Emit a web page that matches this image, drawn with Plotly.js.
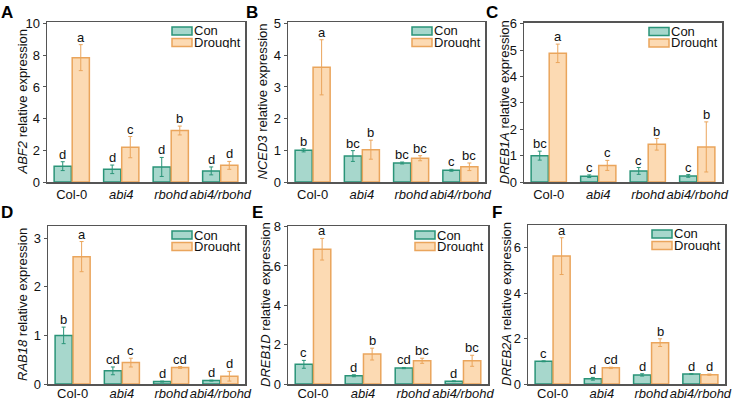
<!DOCTYPE html>
<html>
<head>
<meta charset="utf-8">
<script src="https://cdn.plot.ly/plotly-3.0.1.min.js"></script>
<style>
  html, body { margin: 0; padding: 0; background: #fff; }
  #chart { width: 733px; height: 401px; }
</style>
</head>
<body>
<div id="chart"></div>
<script>
// Genotypes on the x axis of every panel
const genotypes = ['Col-0', 'abi4', 'rbohd', 'abi4/rbohd'];
const genotypeLabels = ['Col-0', '<i>abi4</i>', '<i>rbohd</i>', '<i>abi4/rbohd</i>'];

// A: ABF2
const abf2Con = [1.0, 0.8, 0.95, 0.7];
const abf2ConErr = [0.28, 0.27, 0.6, 0.25];
const abf2Drought = [7.85, 2.2, 3.25, 1.05];
const abf2DroughtErr = [0.82, 0.67, 0.28, 0.25];
const abf2ConSig = ['d', 'd', 'd', 'd'];
const abf2DroughtSig = ['a', 'c', 'b', 'd'];

// B: NCED3
const nced3Con = [1.0, 0.82, 0.6, 0.37];
const nced3ConErr = [0.05, 0.17, 0.03, 0.03];
const nced3Drought = [3.62, 1.02, 0.75, 0.48];
const nced3DroughtErr = [0.87, 0.3, 0.08, 0.12];
const nced3ConSig = ['b', 'bc', 'bc', 'c'];
const nced3DroughtSig = ['a', 'b', 'bc', 'bc'];

// C: DREB1A
const dreb1aCon = [1.0, 0.22, 0.42, 0.23];
const dreb1aConErr = [0.17, 0.05, 0.13, 0.05];
const dreb1aDrought = [4.88, 0.63, 1.43, 1.33];
const dreb1aDroughtErr = [0.35, 0.19, 0.22, 0.95];
const dreb1aConSig = ['bc', 'c', 'c', 'c'];
const dreb1aDroughtSig = ['a', 'c', 'b', 'b'];

// D: RAB18
const rab18Con = [1.0, 0.27, 0.05, 0.07];
const rab18ConErr = [0.17, 0.08, 0.01, 0.01];
const rab18Drought = [2.62, 0.44, 0.34, 0.16];
const rab18DroughtErr = [0.31, 0.09, 0.02, 0.1];
const rab18ConSig = ['b', 'cd', 'd', 'd'];
const rab18DroughtSig = ['a', 'c', 'cd', 'd'];

// E: DREB1D
const dreb1dCon = [1.0, 0.42, 0.81, 0.14];
const dreb1dConErr = [0.2, 0.05, 0.03, 0.02];
const dreb1dDrought = [6.85, 1.52, 1.18, 1.18];
const dreb1dDroughtErr = [0.55, 0.3, 0.13, 0.28];
const dreb1dConSig = ['c', 'd', 'cd', 'd'];
const dreb1dDroughtSig = ['a', 'b', 'bc', 'bc'];

// F: DREB2A
const dreb2aCon = [1.0, 0.23, 0.4, 0.44];
const dreb2aConErr = [0.02, 0.06, 0.05, 0.01];
const dreb2aDrought = [5.63, 0.71, 1.82, 0.41];
const dreb2aDroughtErr = [0.81, 0.03, 0.17, 0.03];
const dreb2aConSig = ['c', 'd', 'd', 'd'];
const dreb2aDroughtSig = ['a', 'cd', 'b', 'd'];

const W = 733, H = 401;
const conFill = '#a7d7cc', conLine = '#2a9478';
const drFill = '#fcdab3', drLine = '#eaa55c';
const frameColor = '#555555';
const font = 'Arial, "Liberation Sans", sans-serif';
const bargap = 0.27;

// Panel layout in pixels: [left, right, top, bottom]; labelShift pulls x tick labels up
const panels = [
  { tag: 'A', gene: 'ABF2', con: abf2Con, conErr: abf2ConErr, dr: abf2Drought, drErr: abf2DroughtErr,
    conSig: abf2ConSig, drSig: abf2DroughtSig, range: [0, 10.1], dtick: 2,
    box: [47, 245, 22, 182], titleX: 22.5, tagPos: [7, 13], labelShift: 0 },
  { tag: 'B', gene: 'NCED3', con: nced3Con, conErr: nced3ConErr, dr: nced3Drought, drErr: nced3DroughtErr,
    conSig: nced3ConSig, drSig: nced3DroughtSig, range: [0, 5.05], dtick: 1,
    box: [288, 485, 22, 182], titleX: 262.5, tagPos: [252, 13], labelShift: 0 },
  { tag: 'C', gene: 'DREB1A', con: dreb1aCon, conErr: dreb1aConErr, dr: dreb1aDrought, drErr: dreb1aDroughtErr,
    conSig: dreb1aConSig, drSig: dreb1aDroughtSig, range: [0, 6.05], dtick: 1,
    box: [524, 722, 22.5, 182], titleX: 504, tagPos: [492, 12], labelShift: 0 },
  { tag: 'D', gene: 'RAB18', con: rab18Con, conErr: rab18ConErr, dr: rab18Drought, drErr: rab18DroughtErr,
    conSig: rab18ConSig, drSig: rab18DroughtSig, range: [0, 3.25], dtick: 1,
    box: [48, 245, 226, 384], titleX: 22, tagPos: [7, 212], labelShift: -3 },
  { tag: 'E', gene: 'DREB1D', con: dreb1dCon, conErr: dreb1dConErr, dr: dreb1dDrought, drErr: dreb1dDroughtErr,
    conSig: dreb1dConSig, drSig: dreb1dDroughtSig, range: [0, 8.03], dtick: 2,
    box: [288, 488, 226, 384], titleX: 265, tagPos: [257, 212], labelShift: -3 },
  { tag: 'F', gene: 'DREB2A', con: dreb2aCon, conErr: dreb2aConErr, dr: dreb2aDrought, drErr: dreb2aDroughtErr,
    conSig: dreb2aConSig, drSig: dreb2aDroughtSig, range: [0, 7], dtick: 2,
    box: [528, 725, 225, 384], titleX: 506.5, tagPos: [497, 212], labelShift: -3 }
];

const px = x => x / W;
const py = y => 1 - y / H;

const traces = [];
const annotations = [];
const shapes = [];
const layout = {
  width: W, height: H,
  margin: { l: 0, r: 0, t: 0, b: 0 },
  paper_bgcolor: '#fff', plot_bgcolor: '#fff',
  barmode: 'group', bargap: bargap, bargroupgap: 0.05,
  showlegend: false,
  font: { family: font, size: 13, color: '#111' }
};

panels.forEach((p, i) => {
  const n = i + 1;
  const xa = n === 1 ? 'x' : 'x' + n;
  const ya = n === 1 ? 'y' : 'y' + n;
  const xKey = n === 1 ? 'xaxis' : 'xaxis' + n;
  const yKey = n === 1 ? 'yaxis' : 'yaxis' + n;
  const [l, r, t, b] = p.box;

  layout[xKey] = {
    domain: [px(l), px(r)], anchor: ya,
    type: 'category', range: [-0.5, 3.5],
    tickmode: 'array', tickvals: genotypes, ticktext: genotypeLabels,
    tickangle: 0, ticks: '', ticklabelstandoff: p.labelShift,
    showline: true, mirror: true, linecolor: frameColor, linewidth: 1.5,
    showgrid: false, zeroline: false, fixedrange: true,
    tickfont: { size: 13, color: '#111' }
  };
  layout[yKey] = {
    domain: [py(b), py(t)], anchor: xa,
    range: p.range, dtick: p.dtick, tick0: 0,
    ticks: 'outside', ticklen: 3, tickcolor: frameColor, tickwidth: 1,
    showline: true, mirror: true, linecolor: frameColor, linewidth: 1.5,
    showgrid: false, zeroline: false, fixedrange: true,
    tickfont: { size: 13, color: '#111' }
  };

  traces.push({
    type: 'bar', name: 'Con', x: genotypes, y: p.con, xaxis: xa, yaxis: ya,
    marker: { color: conFill, line: { color: conLine, width: 1.5 } },
    error_y: { type: 'data', array: p.conErr, visible: true, color: conLine, thickness: 1, width: 2 },
    hoverinfo: 'none'
  });
  traces.push({
    type: 'bar', name: 'Drought', x: genotypes, y: p.dr, xaxis: xa, yaxis: ya,
    marker: { color: drFill, line: { color: drLine, width: 1.5 } },
    error_y: { type: 'data', array: p.drErr, visible: true, color: drLine, thickness: 1, width: 2 },
    hoverinfo: 'none'
  });

  // significance letters above each error bar
  const off = (1 - bargap) / 4;
  genotypes.forEach((g, k) => {
    annotations.push({
      xref: xa, yref: ya, x: k - off, y: p.con[k] + p.conErr[k],
      text: p.conSig[k], showarrow: false, yanchor: 'bottom', yshift: -2,
      font: { size: 13, color: '#111' }
    });
    annotations.push({
      xref: xa, yref: ya, x: k + off, y: p.dr[k] + p.drErr[k],
      text: p.drSig[k], showarrow: false, yanchor: 'bottom', yshift: -2,
      font: { size: 13, color: '#111' }
    });
  });

  // y axis title
  annotations.push({
    xref: 'paper', yref: 'paper', x: px(p.titleX), y: py((t + b) / 2),
    text: '<i>' + p.gene + '</i> relative expression', textangle: -90,
    showarrow: false, xanchor: 'center', yanchor: 'middle',
    font: { size: 13, color: '#111' }
  });

  // panel tag
  annotations.push({
    xref: 'paper', yref: 'paper', x: px(p.tagPos[0]), y: py(p.tagPos[1]),
    text: '<b>' + p.tag + '</b>', showarrow: false, xanchor: 'center', yanchor: 'middle',
    font: { size: 17, color: '#000' }
  });

  // legend inside the top-right corner
  const rows = [
    { label: 'Con', fill: conFill, line: conLine, yc: t + 9 },
    { label: 'Drought', fill: drFill, line: drLine, yc: t + 20.5 }
  ];
  rows.forEach(row => {
    shapes.push({
      type: 'rect', xref: 'paper', yref: 'paper',
      x0: px(r - 73), x1: px(r - 53), y0: py(row.yc + 4), y1: py(row.yc - 4),
      fillcolor: row.fill, line: { color: row.line, width: 1.5 }
    });
    annotations.push({
      xref: 'paper', yref: 'paper', x: px(r - 52), y: py(row.yc),
      text: row.label, showarrow: false, xanchor: 'left', yanchor: 'middle',
      height: 11, valign: 'middle',
      font: { size: 13, color: '#111' }, borderpad: 0
    });
  });
});

layout.annotations = annotations;
layout.shapes = shapes;

Plotly.newPlot('chart', traces, layout, { staticPlot: true, displayModeBar: false });
</script>
</body>
</html>
